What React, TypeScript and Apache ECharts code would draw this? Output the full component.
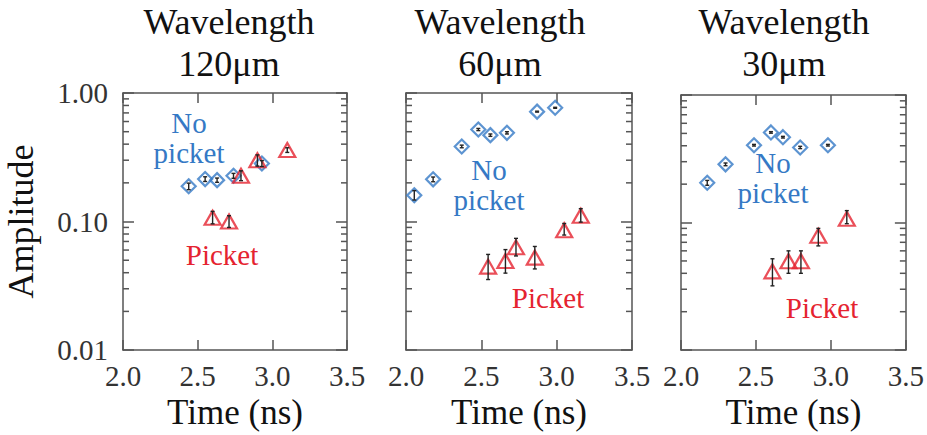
import React, { useEffect, useRef } from "react";
import * as echarts from "echarts";

// Panel titles
const titles = ["Wavelength\n120μm", "Wavelength\n60μm", "Wavelength\n30μm"];

// Each point: [time (ns), amplitude, error low, error high]
const noPicket120 = [
  [2.44, 0.188, 0.177, 0.199],
  [2.55, 0.214, 0.205, 0.223],
  [2.63, 0.21, 0.202, 0.218],
  [2.74, 0.227, 0.217, 0.237],
  [2.93, 0.283, 0.268, 0.298],
];
const picket120 = [
  [2.6, 0.107, 0.096, 0.12],
  [2.71, 0.1, 0.09, 0.111],
  [2.79, 0.227, 0.208, 0.248],
  [2.9, 0.3, 0.27, 0.33],
  [3.1, 0.36, 0.345, 0.375],
];
const noPicket60 = [
  [2.055, 0.16, 0.147, 0.174],
  [2.18, 0.213, 0.204, 0.222],
  [2.37, 0.384, 0.375, 0.393],
  [2.48, 0.52, 0.51, 0.53],
  [2.56, 0.47, 0.46, 0.48],
  [2.67, 0.49, 0.48, 0.5],
  [2.87, 0.716, 0.71, 0.722],
  [2.99, 0.767, 0.76, 0.774],
];
const picket60 = [
  [2.545, 0.0446, 0.0354, 0.0555],
  [2.66, 0.0494, 0.0397, 0.0605],
  [2.73, 0.063, 0.054, 0.074],
  [2.855, 0.0524, 0.0428, 0.064],
  [3.05, 0.0856, 0.0785, 0.0966],
  [3.16, 0.111, 0.099, 0.126],
];
const noPicket30 = [
  [2.175, 0.205, 0.196, 0.214],
  [2.297, 0.286, 0.279, 0.293],
  [2.487, 0.404, 0.398, 0.41],
  [2.6, 0.509, 0.502, 0.516],
  [2.68, 0.467, 0.46, 0.474],
  [2.795, 0.388, 0.38, 0.396],
  [2.98, 0.404, 0.398, 0.41],
];
const picket30 = [
  [2.61, 0.0414, 0.0319, 0.052],
  [2.717, 0.0498, 0.04, 0.06],
  [2.8, 0.0498, 0.04, 0.06],
  [2.916, 0.0789, 0.0656, 0.09],
  [3.106, 0.107, 0.098, 0.124],
];

// Axis settings and tick values
const xMin = 2.0;
const xMax = 3.5;
const xInterval = 0.5;
const yMin = 0.01;
const yMax = 1;
const yMinorTicks = [0.02, 0.03, 0.04, 0.05, 0.06, 0.07, 0.08, 0.09, 0.2, 0.3, 0.4, 0.5, 0.6, 0.7, 0.8, 0.9];
const noPicketLabel = "No\npicket";
const picketLabel = "Picket";
const xName = "Time (ns)";
const yName = "Amplitude";

const noPicketSets = [noPicket120, noPicket60, noPicket30];
const picketSets = [picket120, picket60, picket30];

const BLUE = "#3579c5";
const RED = "#e52330";
const AXIS = "#555";
const FONT = "'Liberation Serif', 'DejaVu Serif', serif";

const grids = [
  { left: 123, top: 93, width: 224, height: 265 },
  { left: 406, top: 93, width: 226, height: 266 },
  { left: 681, top: 95, width: 226, height: 267 },
];
const titlePos = [
  [229, 1],
  [500, 1],
  [784, 1],
];
const noPicketPos = [
  [189, 108],
  [489, 155],
  [773, 148],
];
const picketPos = [
  [222, 240],
  [548, 283],
  [822, 293],
];

function errorBarRender(params: any, api: any) {
  const x = api.value(0);
  const lo = api.coord([x, api.value(2)]);
  const hi = api.coord([x, api.value(3)]);
  const cap = 2;
  const style = { stroke: "#222", lineWidth: 1.4 };
  return {
    type: "group",
    children: [
      { type: "line", shape: { x1: lo[0], y1: lo[1], x2: hi[0], y2: hi[1] }, style },
      { type: "line", shape: { x1: lo[0] - cap, y1: lo[1], x2: lo[0] + cap, y2: lo[1] }, style },
      { type: "line", shape: { x1: hi[0] - cap, y1: hi[1], x2: hi[0] + cap, y2: hi[1] }, style },
    ],
  };
}

function minorTickRender(params: any, api: any) {
  const cs = params.coordSys;
  const y = api.coord([api.value(0), api.value(1)])[1];
  const len = 6;
  const style = { stroke: AXIS, lineWidth: 1.5 };
  return {
    type: "group",
    children: [
      { type: "line", shape: { x1: cs.x, y1: y, x2: cs.x + len, y2: y }, style },
      { type: "line", shape: { x1: cs.x + cs.width - len, y1: y, x2: cs.x + cs.width, y2: y }, style },
    ],
  };
}

export default function App() {
  const ref = useRef<HTMLDivElement>(null);
  useEffect(() => {
    if (!ref.current) return;
    const chart = echarts.init(ref.current, null, { renderer: "svg" });
    const xAxes: any[] = [];
    const yAxes: any[] = [];
    const series: any[] = [];
    const graphics: any[] = [];
    grids.forEach((g, i) => {
      const axisLine = { show: true, lineStyle: { color: AXIS, width: 1.5 } };
      xAxes.push({
        type: "value",
        gridIndex: i,
        position: "bottom",
        min: xMin,
        max: xMax,
        interval: xInterval,
        axisLine,
        axisTick: { show: true, inside: true, length: 10, lineStyle: { color: AXIS, width: 1.5 } },
        axisLabel: {
          show: true,
          margin: 11,
          fontFamily: FONT,
          fontSize: 29,
          color: "#333",
          formatter: (v: number) => v.toFixed(1),
        },
        splitLine: { show: false },
        name: xName,
        nameLocation: "middle",
        nameGap: 42,
        nameTextStyle: { fontFamily: FONT, fontSize: 35, color: "#111" },
      });
      xAxes.push({
        type: "value",
        gridIndex: i,
        position: "top",
        min: xMin,
        max: xMax,
        interval: xInterval,
        axisLine,
        axisTick: { show: true, inside: true, length: 10, lineStyle: { color: AXIS, width: 1.5 } },
        axisLabel: { show: false },
        splitLine: { show: false },
      });
      yAxes.push({
        type: "log",
        logBase: 10,
        gridIndex: i,
        position: "left",
        min: yMin,
        max: yMax,
        axisLine,
        axisTick: { show: true, inside: true, length: 11, lineStyle: { color: AXIS, width: 1.5 } },
        axisLabel: {
          show: i === 0,
          margin: 15,
          fontFamily: FONT,
          fontSize: 29,
          color: "#333",
          formatter: (v: number) => v.toFixed(2),
        },
        splitLine: { show: false },
        name: i === 0 ? yName : "",
        nameLocation: "middle",
        nameGap: 84,
        nameTextStyle: { fontFamily: FONT, fontSize: 36, color: "#111" },
      });
      yAxes.push({
        type: "log",
        logBase: 10,
        gridIndex: i,
        position: "right",
        min: yMin,
        max: yMax,
        axisLine,
        axisTick: { show: true, inside: true, length: 11, lineStyle: { color: AXIS, width: 1.5 } },
        axisLabel: { show: false },
        splitLine: { show: false },
      });
      const xi = i * 2;
      const yi = i * 2;
      series.push({
        type: "custom",
        xAxisIndex: xi,
        yAxisIndex: yi,
        silent: true,
        data: yMinorTicks.map((v) => [xMin, v]),
        encode: { x: 0, y: 1 },
        renderItem: minorTickRender,
        z: 3,
      });
      series.push({
        type: "scatter",
        xAxisIndex: xi,
        yAxisIndex: yi,
        silent: true,
        data: noPicketSets[i].map((d) => [d[0], d[1]]),
        symbol: "diamond",
        symbolSize: 14,
        itemStyle: { color: "rgba(255,255,255,0)", borderColor: BLUE, borderWidth: 2.2 },
        z: 4,
      });
      series.push({
        type: "scatter",
        xAxisIndex: xi,
        yAxisIndex: yi,
        silent: true,
        data: picketSets[i].map((d) => [d[0], d[1]]),
        symbol: "triangle",
        symbolSize: [16, 14],
        itemStyle: { color: "rgba(255,255,255,0)", borderColor: RED, borderWidth: 2.2 },
        z: 4,
      });
      series.push({
        type: "custom",
        xAxisIndex: xi,
        yAxisIndex: yi,
        silent: true,
        data: noPicketSets[i].concat(picketSets[i]),
        encode: { x: 0, y: 1 },
        renderItem: errorBarRender,
        z: 5,
      });
      graphics.push({
        type: "text",
        x: titlePos[i][0],
        y: titlePos[i][1],
        style: {
          text: titles[i],
          font: `36px ${FONT}`,
          fill: "#111",
          align: "center",
          verticalAlign: "top",
          lineHeight: 42,
        },
      });
      graphics.push({
        type: "text",
        x: noPicketPos[i][0],
        y: noPicketPos[i][1],
        style: {
          text: noPicketLabel,
          font: `29px ${FONT}`,
          fill: BLUE,
          align: "center",
          verticalAlign: "top",
          lineHeight: 30,
        },
      });
      graphics.push({
        type: "text",
        x: picketPos[i][0],
        y: picketPos[i][1],
        style: {
          text: picketLabel,
          font: `29px ${FONT}`,
          fill: RED,
          align: "center",
          verticalAlign: "top",
        },
      });
    });
    chart.setOption({
      animation: false,
      backgroundColor: "#ffffff",
      grid: grids.map((g) => ({ ...g, containLabel: false })),
      xAxis: xAxes,
      yAxis: yAxes,
      series,
      graphic: graphics,
    });
    return () => chart.dispose();
  }, []);
  return (
    <div
      ref={ref}
      style={{ position: "fixed", left: 0, top: 0, width: 927, height: 435 }}
    />
  );
}
